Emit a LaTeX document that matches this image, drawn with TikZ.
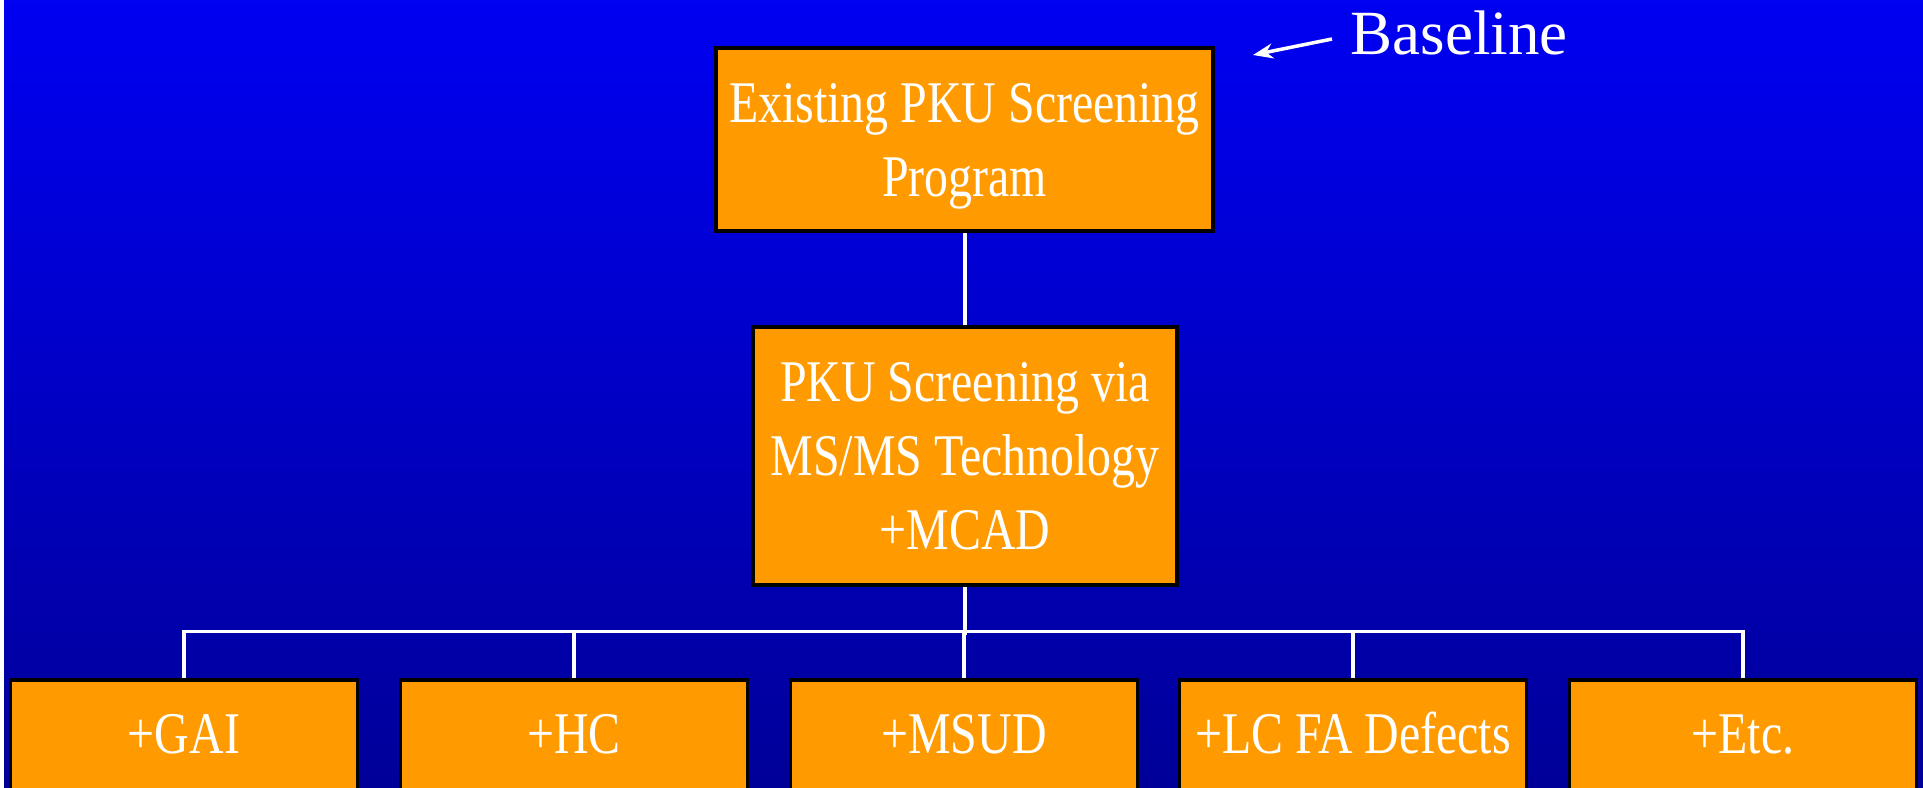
\documentclass[tikz,border=0pt]{standalone}
\usepackage{fontspec}
\setmainfont{Liberation Serif}
\newfontfamily\narrowserif[FakeStretch=0.81]{Liberation Serif}
\usetikzlibrary{arrows.meta}
\definecolor{boxorange}{RGB}{255,155,0}
\definecolor{skytop}{RGB}{0,0,242}
\definecolor{skybottom}{RGB}{0,0,152}

\begin{document}
\begin{tikzpicture}[x=0.01cm, y=-0.01cm,
  box/.style={draw=black, line width=1pt, fill=boxorange, text=white, align=center,
    font=\narrowserif\fontsize{16.8pt}{21pt}\selectfont},
  leaf/.style={box, minimum width=3.47cm, minimum height=1.21cm, text height=0.4cm, text depth=0.15cm},
  link/.style={white, line width=0.9pt}]
  \clip (0,0) rectangle (1923,788);
  \shade [top color=skytop, bottom color=skybottom] (0,0) rectangle (1923,788);
  \fill [white] (0,0) rectangle (4,788);

  \node [box, minimum width=4.97cm, minimum height=1.83cm] (top) at (964.5,139.5) {\rule{0pt}{0.52cm}Existing PKU Screening\\Program};
  \node [box, minimum width=4.24cm, minimum height=2.58cm] (mid) at (965,456) {PKU Screening via\\MS/MS Technology\\+MCAD};
  \foreach \x/\t [count=\i] in {184/{+GAI}, 574/{+HC}, 964/{+MSUD}, 1353/{+LC FA Defects}, 1743/{+Etc.}}
    \node [leaf] (b\i) at (\x,740.5) {\t};

  \draw [link] (mid.north) -- (mid.north |- top.south);
  \draw [link] (mid.south) -- ++(0,48);
  \draw [link] (b1.north) -- ++(0,-47) -| (b5.north);
  \foreach \i in {2,3,4}
    \draw [link] (b\i.north) -- ++(0,-47);

  % label with arrow
  \node [anchor=base west, inner sep=0, text=white, font=\fontsize{17.9pt}{21pt}\selectfont] (lbl) at (1350,55) {Baseline};
  \coordinate (tail) at (1332,39);
  \coordinate (tip) at (1253,55);
  \draw [white, line width=1pt, -{Stealth[length=0.2cm,width=0.15cm]}] (tail) -- (tip);
\end{tikzpicture}
\end{document}
